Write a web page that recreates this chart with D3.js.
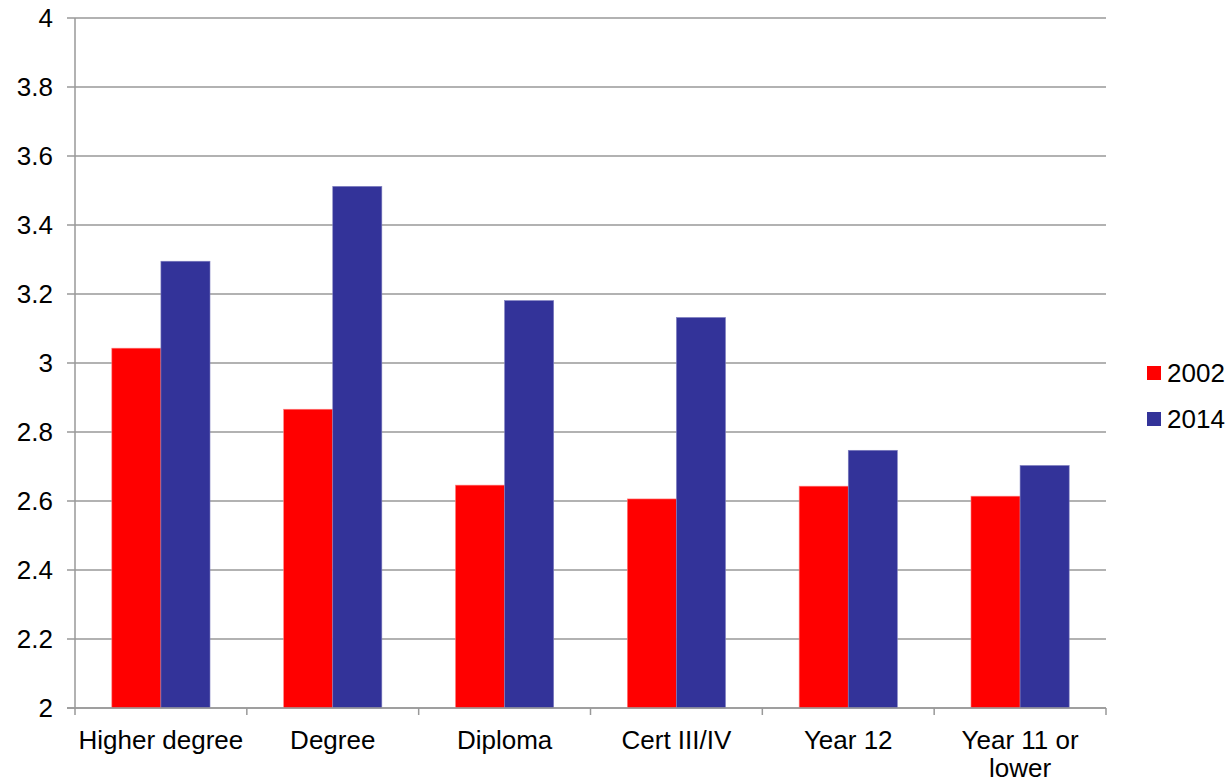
<!DOCTYPE html>
<html>
<head>
<meta charset="utf-8">
<script src="https://cdn.jsdelivr.net/npm/d3@7"></script>
<style>
  body { margin: 0; background: #fff; }
  text { font-family: "Liberation Sans", Arial, sans-serif; fill: #000; }
</style>
</head>
<body>
<svg id="chart"></svg>
<script>
const categories = ["Higher degree", "Degree", "Diploma", "Cert III/IV", "Year 12", "Year 11 or lower"];
const series = ["2002", "2014"];
const values2002 = [3.043, 2.866, 2.646, 2.606, 2.643, 2.614];
const values2014 = [3.295, 3.512, 3.181, 3.132, 2.747, 2.703];
const yTicks = [2, 2.2, 2.4, 2.6, 2.8, 3, 3.2, 3.4, 3.6, 3.8, 4];
const colors = ["#ff0000", "#333399"];

const size = { w: 1230, h: 781 };
const plot = { l: 75, r: 1106, t: 18, b: 708 };
const fontSize = "26px";

const svg = d3.select("svg#chart").attr("width", size.w).attr("height", size.h);

const x = d3.scaleBand().domain(categories).range([plot.l, plot.r]).paddingInner(0).paddingOuter(0);
const xSub = d3.scaleBand().domain(series).range([0, x.bandwidth()]).paddingInner(0).paddingOuter(0.75);
const y = d3.scaleLinear().domain([2, 4]).range([plot.b, plot.t]);

// gridlines
svg.append("g")
  .selectAll("line")
  .data(yTicks)
  .join("line")
  .attr("x1", plot.l - 8)
  .attr("x2", plot.r)
  .attr("y1", (d) => y(d))
  .attr("y2", (d) => y(d))
  .attr("stroke", "#999")
  .attr("stroke-width", 1.5);

// y labels
svg.append("g")
  .selectAll("text")
  .data(yTicks)
  .join("text")
  .attr("x", 53)
  .attr("y", (d) => y(d))
  .attr("dy", "0.35em")
  .attr("text-anchor", "end")
  .style("font-size", fontSize)
  .text((d) => d3.format("")(+d.toFixed(1)));

// bars
const rows = categories.map((c, i) => ({ cat: c, vals: [values2002[i], values2014[i]] }));
const groups = svg.append("g")
  .selectAll("g")
  .data(rows)
  .join("g")
  .attr("transform", (d) => `translate(${x(d.cat)},0)`);

groups.selectAll("rect")
  .data((d) => d.vals.map((v, j) => ({ s: series[j], v: v, j: j })))
  .join("rect")
  .attr("x", (d) => xSub(d.s))
  .attr("width", xSub.bandwidth())
  .attr("y", (d) => y(d.v))
  .attr("height", (d) => plot.b - y(d.v))
  .attr("fill", (d) => colors[d.j])
  .attr("stroke", (d) => (d.j === 0 ? "#ff8080" : "#8080c0"))
  .attr("stroke-width", 0.6);

// axes lines
svg.append("line")
  .attr("x1", plot.l).attr("x2", plot.l)
  .attr("y1", plot.t).attr("y2", plot.b + 7)
  .attr("stroke", "#999").attr("stroke-width", 1.5);
svg.append("line")
  .attr("x1", plot.l - 8).attr("x2", plot.r)
  .attr("y1", plot.b).attr("y2", plot.b)
  .attr("stroke", "#999").attr("stroke-width", 1.5);

// x ticks
svg.append("g")
  .selectAll("line")
  .data(categories)
  .join("line")
  .attr("x1", (d) => x(d) + x.bandwidth())
  .attr("x2", (d) => x(d) + x.bandwidth())
  .attr("y1", plot.b)
  .attr("y2", plot.b + 7)
  .attr("stroke", "#999")
  .attr("stroke-width", 1.5);

// x labels
const xLabels = svg.append("g")
  .selectAll("text")
  .data(categories)
  .join("text")
  .attr("text-anchor", "middle")
  .attr("x", (d) => x(d) + x.bandwidth() / 2)
  .attr("y", 749)
  .style("font-size", fontSize);

xLabels.each(function (d) {
  const t = d3.select(this);
  const lines = d === "Year 11 or lower" ? ["Year 11 or", "lower"] : [d];
  lines.forEach((ln, k) => {
    t.append("tspan")
      .attr("x", x(d) + x.bandwidth() / 2)
      .attr("dy", k === 0 ? 0 : 28)
      .text(ln);
  });
});

// legend
const legend = svg.append("g")
  .selectAll("g")
  .data(series)
  .join("g")
  .attr("transform", (d, i) => `translate(1147, ${366 + i * 46})`);
legend.append("rect")
  .attr("width", 14).attr("height", 14)
  .attr("fill", (d, i) => colors[i]);
legend.append("text")
  .attr("x", 20).attr("y", 7).attr("dy", "0.35em")
  .style("font-size", fontSize)
  .text((d) => d);
</script>
</body>
</html>
